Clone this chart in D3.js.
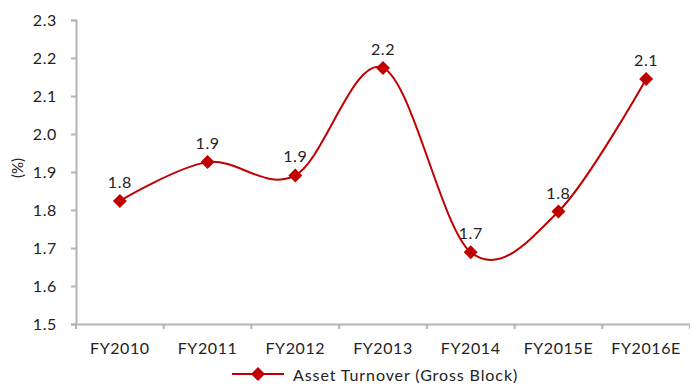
<!DOCTYPE html>
<html>
<head>
<meta charset="utf-8">
<script src="https://cdn.jsdelivr.net/npm/d3@7"></script>
<style>
  body { margin: 0; background: #fff; }
  svg text { font-family: "Lato", "DejaVu Sans", sans-serif; fill: #222; }
</style>
</head>
<body>
<div id="chart"></div>
<script>
// chart values
const categories = ["FY2010", "FY2011", "FY2012", "FY2013", "FY2014", "FY2015E", "FY2016E"];
const turnover   = [1.824, 1.926, 1.891, 2.174, 1.689, 1.796, 2.145];
const labels     = ["1.8", "1.9", "1.9", "2.2", "1.7", "1.8", "2.1"];
const yTicks     = [1.5, 1.6, 1.7, 1.8, 1.9, 2.0, 2.1, 2.2, 2.3];
const seriesName = "Asset Turnover (Gross Block)";

const width = 690, height = 385;
const margin = {top: 20, right: 0, bottom: 61, left: 76};
const w = width - margin.left - margin.right,
      h = height - margin.top - margin.bottom;

const svg = d3.select("#chart")
    .append("svg")
    .attr("width", width)
    .attr("height", height);

const g = svg.append("g")
    .attr("transform", "translate(" + margin.left + "," + margin.top + ")");

const x = d3.scaleBand()
    .domain(categories)
    .range([0, w]);

const y = d3.scaleLinear()
    .domain([1.5, 2.3])
    .range([h, 0]);

const axisColor = "#b4b4b4";
const textStyle = sel => sel.style("font-size", "16px").style("letter-spacing", "0.6px").attr("fill", "#222");

// y axis
const yAxis = g.append("g")
    .call(d3.axisLeft(y).tickValues(yTicks).tickFormat(d3.format(".1f")).tickSize(5).tickPadding(14));
yAxis.select(".domain").attr("stroke", axisColor).attr("stroke-width", 2);
yAxis.selectAll(".tick line").attr("stroke", axisColor).attr("stroke-width", 2);
yAxis.selectAll("text").call(textStyle);

// x axis: ticks on band boundaries
const xAxis = g.append("g")
    .attr("transform", "translate(0," + h + ")")
    .call(d3.axisBottom(x).tickSize(0).tickPadding(19));
xAxis.select(".domain").attr("stroke", axisColor).attr("stroke-width", 2);
xAxis.selectAll("text").call(textStyle);

g.append("g")
    .selectAll("line")
    .data(categories.concat([null]))
    .enter()
    .append("line")
    .attr("x1", (d, i) => i * x.bandwidth())
    .attr("x2", (d, i) => i * x.bandwidth())
    .attr("y1", h)
    .attr("y2", h + 5)
    .attr("stroke", axisColor)
    .attr("stroke-width", 2);

// y axis title
svg.append("text")
    .attr("transform", "translate(23," + (margin.top + y(1.9) - 4) + ") rotate(-90)")
    .attr("text-anchor", "middle")
    .style("font-size", "15px")
    .text("(%)");

const cx = d => x(d) + x.bandwidth() / 2;

// smoothed line
const line = d3.line()
    .x((d, i) => cx(categories[i]))
    .y(d => y(d))
    .curve(d3.curveCardinal.tension(0));

g.append("path")
    .datum(turnover)
    .attr("d", line)
    .attr("fill", "none")
    .attr("stroke", "#c00000")
    .attr("stroke-width", 2);

const markerPath = "M0,-7L7,0L0,7L-7,0Z";

g.selectAll(".marker")
    .data(turnover)
    .enter()
    .append("path")
    .attr("class", "marker")
    .attr("d", markerPath)
    .attr("transform", (d, i) => "translate(" + cx(categories[i]) + "," + y(d) + ")")
    .attr("fill", "#c00000");

// data labels
g.selectAll(".dlabel")
    .data(turnover)
    .enter()
    .append("text")
    .attr("class", "dlabel")
    .attr("x", (d, i) => cx(categories[i]))
    .attr("y", d => y(d) - 13)
    .attr("text-anchor", "middle")
    .call(textStyle)
    .text((d, i) => labels[i]);

// legend
const legend = svg.append("g")
    .attr("transform", "translate(232,374)");
legend.append("line")
    .attr("x1", 0).attr("x2", 52)
    .attr("stroke", "#c00000")
    .attr("stroke-width", 2);
legend.append("path")
    .attr("d", markerPath)
    .attr("transform", "translate(26,0)")
    .attr("fill", "#c00000");
legend.append("text")
    .attr("x", 61)
    .attr("y", 7)
    .style("font-size", "16px")
    .style("letter-spacing", "0.9px")
    .text(seriesName);
</script>
</body>
</html>
